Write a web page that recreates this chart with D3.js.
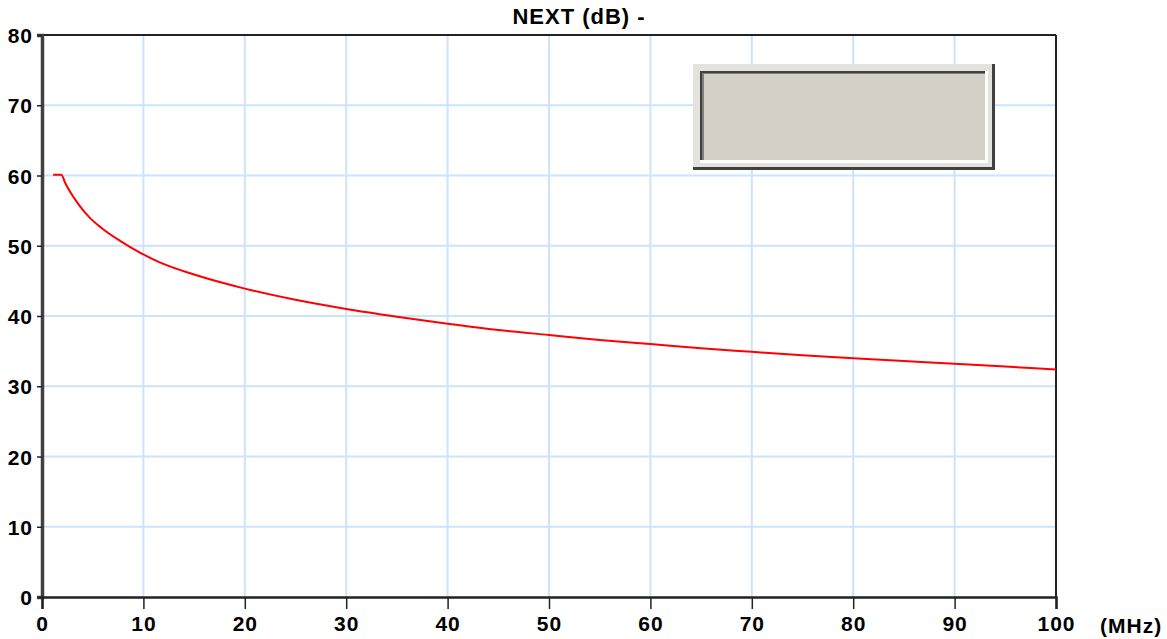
<!DOCTYPE html>
<html>
<head>
<meta charset="utf-8">
<script src="https://cdn.jsdelivr.net/npm/d3@7"></script>
<style>
  body { margin: 0; background: #fff; }
  svg text { font-family: "Liberation Sans", Arial, sans-serif; font-weight: bold; fill: #000; }
</style>
</head>
<body>
<svg width="1167" height="639"></svg>
<script>
// NEXT limit curve
var freqMHz = [1.1, 1.9, 2.3, 2.8, 3.6, 4.7, 5.9, 7.7, 9.7, 11.5, 15, 20, 25, 30, 35, 40, 45, 50, 55, 60, 65, 70, 75, 80, 85, 90, 95, 100];
var nextDb  = [60.1, 60.1, 58.9, 57.6, 55.9, 54.0, 52.5, 50.7, 49.0, 47.7, 45.9, 43.9, 42.3, 41.0, 39.9, 38.9, 38.0, 37.3, 36.6, 36.0, 35.4, 34.9, 34.4, 34.0, 33.6, 33.2, 32.8, 32.4];
var xTicks = [0, 10, 20, 30, 40, 50, 60, 70, 80, 90, 100];
var yTicks = [0, 10, 20, 30, 40, 50, 60, 70, 80];
var title = "NEXT (dB) -";
var unitLabel = "(MHz)";

(function () {
  'use strict';
  var left = 42, top = 35, right = 1056, bottom = 597;
  var svg = d3.select('svg');

  var x = d3.scaleLinear().domain([0, 100]).range([left, right]);
  var y = d3.scaleLinear().domain([0, 80]).range([bottom, top]);

  // grid
  var grid = svg.append('g').attr('stroke', '#cce3fd').attr('stroke-width', 2);
  grid.selectAll('line.v').data(xTicks.filter(function (d) { return d > 0 && d < 100; }))
    .enter().append('line')
    .attr('x1', x).attr('x2', x).attr('y1', top).attr('y2', bottom);
  grid.selectAll('line.h').data(yTicks.filter(function (d) { return d > 0 && d < 80; }))
    .enter().append('line')
    .attr('x1', left).attr('x2', right).attr('y1', y).attr('y2', y);

  // frame
  svg.append('line').attr('x1', left).attr('x2', right).attr('y1', top).attr('y2', top)
    .attr('stroke', '#222').attr('stroke-width', 2);
  svg.append('line').attr('x1', right).attr('x2', right).attr('y1', top).attr('y2', bottom)
    .attr('stroke', '#222').attr('stroke-width', 2);

  // axes
  var yAxis = d3.axisLeft(y).tickValues(yTicks).tickSize(5).tickPadding(4);
  var gy = svg.append('g').attr('transform', 'translate(' + left + ',0)').call(yAxis);
  var xAxis = d3.axisBottom(x).tickValues(xTicks).tickSize(12).tickPadding(2);
  var gx = svg.append('g').attr('transform', 'translate(0,' + bottom + ')').call(xAxis);

  [gx, gy].forEach(function (g) {
    g.selectAll('text').style('font-size', '21px').style('letter-spacing', '1px').attr('fill', '#000');
    g.selectAll('.tick line').attr('stroke', '#222').attr('stroke-width', 1.5);
  });
  gy.select('.domain').attr('stroke', '#404040').attr('stroke-width', 3.5);
  gx.select('.domain').attr('stroke', '#222').attr('stroke-width', 2.5);
  gy.selectAll('text').attr('dy', '0.36em');
  gx.selectAll('text').attr('dy', '0.95em');

  svg.append('text').attr('x', 1100).attr('y', 633).style('font-size', '21px')
    .style('letter-spacing', '1px').text(unitLabel);
  svg.append('text').attr('x', 579).attr('y', 24).attr('text-anchor', 'middle')
    .style('font-size', '22px').style('letter-spacing', '1px').text(title);

  // curve
  var pts = freqMHz.map(function (f, i) { return [f, nextDb[i]]; });
  var line = d3.line().x(function (d) { return x(d[0]); }).y(function (d) { return y(d[1]); })
    .curve(d3.curveMonotoneX);
  svg.append('path').datum(pts).attr('d', line)
    .attr('fill', 'none').attr('stroke', '#ff0000').attr('stroke-width', 2);

  // empty legend panel (3D bevel)
  var box = [
    [693, 64, 995, 170, '#404040'],
    [693, 64, 992, 167, '#e4e2dc'],
    [700, 71, 988, 163, '#ffffff'],
    [700, 71, 985, 160, '#404040'],
    [702, 73, 985, 160, '#808080'],
    [704, 74, 985, 160, '#d4d0c8']
  ];
  svg.append('g').selectAll('rect').data(box).enter().append('rect')
    .attr('x', function (d) { return d[0]; })
    .attr('y', function (d) { return d[1]; })
    .attr('width', function (d) { return d[2] - d[0]; })
    .attr('height', function (d) { return d[3] - d[1]; })
    .attr('fill', function (d) { return d[4]; });
})();
</script>
</body>
</html>
